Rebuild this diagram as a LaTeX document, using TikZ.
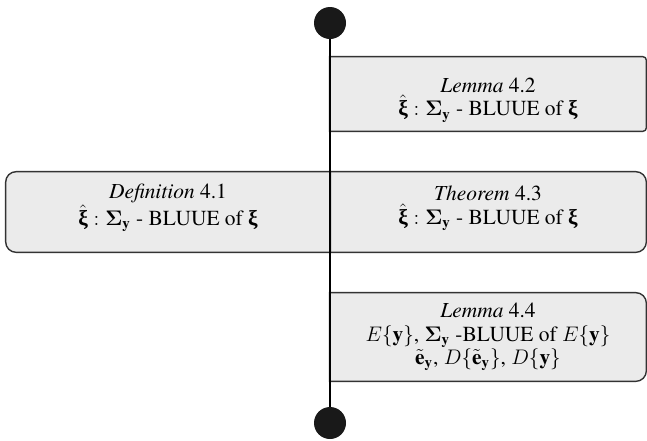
\documentclass[tikz,border=0pt]{standalone}
\usepackage{amsmath}
\usepackage{amssymb}
\usepackage{bm}
\usepackage{fontspec}
\setmainfont{texgyretermes}[Extension=.otf, UprightFont=*-regular,
  ItalicFont=*-italic, BoldFont=*-bold, BoldItalicFont=*-bolditalic]
\newfontfamily\greekfont{LiberationSerif}[Extension=.ttf, UprightFont=*-Regular,
  BoldFont=*-Bold]
\usetikzlibrary{positioning}
\usetikzlibrary{backgrounds}

\newcommand{\bxi}{\text{\greekfont\bfseries ξ}}
\newcommand{\xiblue}{$\hat{\bxi}:\bm{\Sigma}_{\mathbf{y}}$ - BLUUE of $\bxi$}

\begin{document}
\begin{tikzpicture}[x=1cm,y=1cm,
  stepnode/.style={minimum width=6.32cm, inner sep=0pt, align=center,
    font=\fontsize{12.2}{13.4}\selectfont},
  boxline/.style={draw=black!80, fill=boxgray, line width=0.8pt},
  enddot/.style={circle, fill=black!90, minimum size=0.64cm, inner sep=0pt}]
\colorlet{boxgray}{black!8}
\useasboundingbox (0,0) rectangle (12.94,-8.8);

% Start and end of the chain of results.
\node[enddot] (start) at (6.6,-0.46) {};
\node[enddot] (stop) at (6.6,-8.46) {};
\draw[line width=0.8pt] (start) -- (stop);

\node[stepnode, minimum height=1.48cm] (lemA) at (9.76,-1.88)
  {\rule{0pt}{15pt}\emph{Lemma} 4.2\\ \xiblue};
\node[stepnode, minimum width=6.48cm, minimum height=1.6cm] (def) at (3.36,-4.24)
  {\emph{Definition} 4.1\\ \xiblue\rule[-8pt]{0pt}{1pt}};
\node[stepnode, minimum height=1.6cm] (thm) at (9.76,-4.24)
  {\emph{Theorem} 4.3\\ \xiblue\rule[-8pt]{0pt}{1pt}};
\node[stepnode, minimum height=1.76cm] (lemB) at (9.76,-6.74)
  {\emph{Lemma} 4.4\\
   $E\{\mathbf{y}\}$, $\bm{\Sigma}_{\mathbf{y}}$ -BLUUE of $E\{\mathbf{y}\}$\\
   $\tilde{\mathbf{e}}_{\mathbf{y}}$, $D\{\tilde{\mathbf{e}}_{\mathbf{y}}\}$, $D\{\mathbf{y}\}$};

% Cards: square on the chain side, rounded on the outer side.
\begin{scope}[on background layer]
  \foreach \n/\r in {lemA/2pt, thm/6pt, lemB/6pt} {
    \draw[boxline] (\n.south west) -- (\n.north west)
      -- ([xshift=-\r]\n.north east) arc[start angle=90, end angle=0, radius=\r]
      -- ([yshift=\r]\n.south east) arc[start angle=0, end angle=-90, radius=\r]
      -- cycle;
  }
  \draw[boxline] (def.north east) -- ([xshift=6pt]def.north west)
    arc[start angle=90, end angle=180, radius=6pt]
    -- ([yshift=6pt]def.south west) arc[start angle=180, end angle=270, radius=6pt]
    -- (def.south east) -- cycle;
\end{scope}
\end{tikzpicture}
\end{document}
